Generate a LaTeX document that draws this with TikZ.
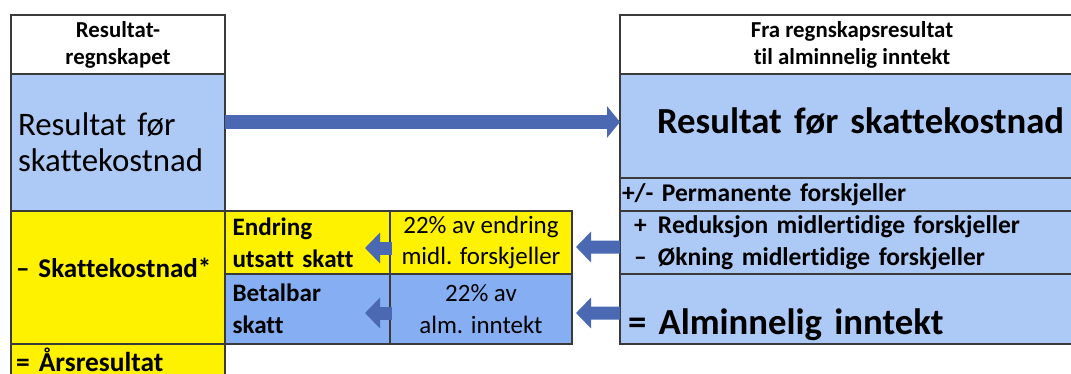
\documentclass[tikz,border=0pt]{standalone}
\usepackage{fontspec}
\setmainfont{Carlito}[Ligatures={TeX,CommonOff}]
\usetikzlibrary{positioning, calc, arrows.meta}
\definecolor{lightblue}{HTML}{ADC9F6}
\definecolor{midblue}{HTML}{86AFF3}
\definecolor{arrowblue}{HTML}{4A69B2}
\definecolor{gridline}{HTML}{3A3A3A}
\tikzstyle{cell} = [rectangle, draw=gridline, line width=0.8pt, outer sep=0pt, inner xsep=0.14cm, inner ysep=0pt, anchor=north west]
\tikzstyle{header} = [cell, fill=white, align=center, font=\fontsize{13}{15.3}\selectfont\bfseries]
\tikzstyle{bigarrow} = [line width=0.28cm, arrowblue, -{Triangle[length=0.26cm, width=0.62cm]}]
\tikzstyle{smallarrow} = [line width=0.26cm, arrowblue, -{Triangle[length=0.3cm, width=0.6cm]}]

\begin{document}
\begin{tikzpicture}
    \useasboundingbox (0,0) rectangle (21.42,-7.48);
    \clip (0,0) rectangle (21.42,-7.48);

    \node (lhead) [header, minimum width=4.28cm, minimum height=1.18cm] at (0.22,-0.3) {Resultat-\\regnskapet};
    \node (lres) [cell, fill=lightblue, below=0pt of lhead, minimum width=4.28cm, minimum height=2.74cm, text width=4cm, align=left, font=\fontsize{18.7}{20.4}\selectfont] {Resultat før\\skattekostnad};
    \node (lskatt) [cell, fill=yellow, below=0pt of lres, minimum width=4.28cm, minimum height=2.66cm, text width=4.08cm, align=left, text height=0pt, text depth=0pt, inner xsep=0.1cm, font=\fontsize{15.4}{18}\selectfont\bfseries] {– Skattekostnad*};
    \node (laars) [cell, fill=yellow, below=0pt of lskatt, minimum width=4.28cm, minimum height=0.68cm, text width=4.08cm, align=left, text height=0.4cm, text depth=0pt, inner xsep=0.1cm, font=\fontsize{15.6}{18}\selectfont\bfseries] {= Årsresultat};

    \node (endr) [cell, fill=yellow, minimum width=3.3cm, minimum height=1.26cm, text width=3cm, align=left, font=\fontsize{14.3}{18}\selectfont\bfseries] at (lskatt.north east) {Endring\\utsatt skatt};
    \node (pct1) [cell, fill=yellow, right=0pt of endr, minimum width=3.64cm, minimum height=1.26cm, align=center, font=\fontsize{14.2}{18}\selectfont] {22\% av endring\\midl. forskjeller};
    \node (betal) [cell, fill=midblue, below=0pt of endr, minimum width=3.3cm, minimum height=1.4cm, text width=3cm, align=left, font=\fontsize{14.3}{18}\selectfont\bfseries] {Betalbar\\skatt};
    \node (pct2) [cell, fill=midblue, below=0pt of pct1, minimum width=3.64cm, minimum height=1.4cm, align=center, font=\fontsize{14.2}{18}\selectfont] {22\% av\\alm. inntekt};

    \node (rhead) [header, minimum width=9.28cm, minimum height=1.18cm] at (12.4,-0.3) {Fra regnskapsresultat\\til alminnelig inntekt};
    \node (rfs) [cell, fill=lightblue, below=0pt of rhead, minimum width=9.28cm, minimum height=2.08cm, inner xsep=0.04cm, text width=9.2cm, align=left, text height=0.32cm, text depth=0pt, font=\fontsize{20.9}{24}\selectfont\bfseries] {\hspace*{0.7cm}Resultat før skattekostnad};
    \node (perm) [cell, fill=lightblue, below=0pt of rfs, minimum width=9.28cm, minimum height=0.66cm, inner xsep=0.04cm, text width=9.2cm, align=left, font=\fontsize{14.5}{18}\selectfont\bfseries] {+/- Permanente forskjeller};
    \node (midl) [cell, fill=lightblue, below=0pt of perm, minimum width=9.28cm, minimum height=1.26cm, inner xsep=0.28cm, text width=8.72cm, align=left, font=\fontsize{14.5}{18}\selectfont\bfseries] {\makebox[0.48cm][l]{+}Reduksjon midlertidige forskjeller\\\makebox[0.48cm][l]{–}Økning midlertidige forskjeller};
    \node (alm) [cell, fill=lightblue, below=0pt of midl, minimum width=9.28cm, minimum height=1.4cm, inner xsep=0.16cm, text width=8.96cm, align=left, text height=1cm, text depth=0pt, font=\fontsize{20.9}{24}\selectfont\bfseries] {= Alminnelig inntekt};

    \draw [bigarrow] ($(lres.east |- rfs.west)+(0,0.08)$) -- ($(rfs.west)+(0,0.08)$);
    \draw [smallarrow] ($(pct1.west)+(0.04,-0.11)$) -- ($(endr.east)+(-0.5,-0.11)$);
    \draw [smallarrow] ($(pct2.west)+(0.04,-0.08)$) -- ($(betal.east)+(-0.5,-0.08)$);
    \draw [smallarrow] ($(midl.west)+(0,-0.09)$) -- ($(pct1.east)+(0.08,-0.09)$);
    \draw [smallarrow] ($(alm.west)+(0,-0.08)$) -- ($(pct2.east)+(0.08,-0.08)$);
\end{tikzpicture}
\end{document}
